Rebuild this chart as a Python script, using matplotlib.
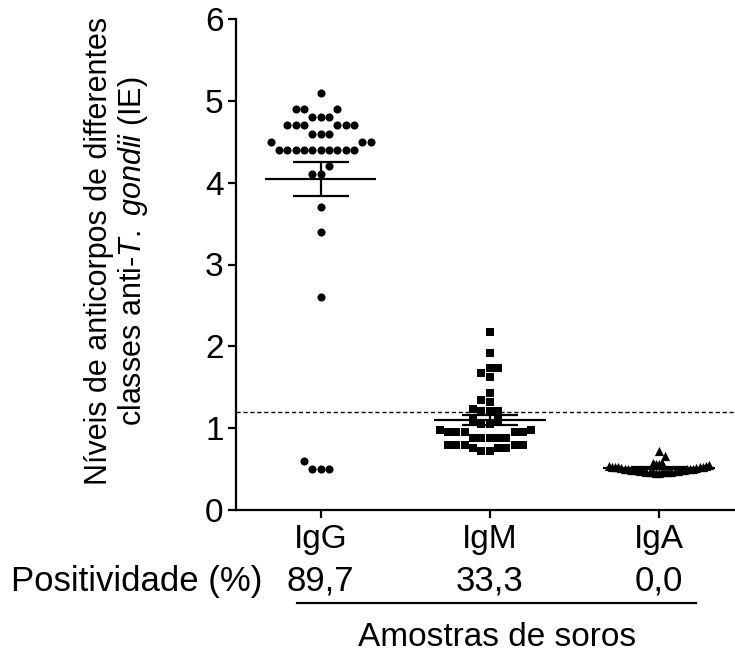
import numpy as np
import matplotlib
matplotlib.use("Agg")
import matplotlib.pyplot as plt

# ── Style ────────────────────────────────────────────────────────────────────
plt.rcParams["font.family"] = ["Liberation Sans", "DejaVu Sans"]
plt.rcParams["mathtext.fontset"] = "custom"
plt.rcParams["mathtext.rm"] = "Liberation Sans"
plt.rcParams["mathtext.it"] = "Liberation Sans:italic"

FS_LAB = 22      # y label
FS_TICK = 24     # tick labels
FS_ROW = 25      # positivity row
FS_X = 24        # x title
LW = 1.6

# ── Data ─────────────────────────────────────────────────────────────────────
categories = ["IgG", "IgM", "IgA"]
positivity = ["89,7", "33,3", "0,0"]
cutoff = 1.2

igg = [5.1, 4.9, 4.9, 4.9, 4.8, 4.8, 4.8,
       4.7, 4.7, 4.7, 4.7, 4.7, 4.7, 4.6, 4.6, 4.6,
       4.5, 4.5, 4.5, 4.4, 4.4, 4.4, 4.4, 4.4, 4.4, 4.4, 4.4, 4.4, 4.4,
       4.2, 4.1, 4.1, 3.7, 3.4, 2.6, 0.6, 0.5, 0.5, 0.5]
igm = [2.17, 1.92, 1.74, 1.74, 1.67, 1.62, 1.43, 1.35, 1.32, 1.24,
       1.21, 1.21, 1.21, 1.10, 1.10, 1.05, 1.05, 0.98, 0.98,
       0.95, 0.95, 0.95, 0.95, 0.95, 0.88, 0.88, 0.88, 0.88, 0.88,
       0.80, 0.80, 0.80, 0.80, 0.80, 0.76, 0.76, 0.76, 0.72, 0.72]
iga = [0.72, 0.66, 0.58, 0.58, 0.56, 0.56, 0.55, 0.54, 0.54,
       0.53, 0.53, 0.52, 0.52, 0.52, 0.51, 0.51,
       0.50, 0.50, 0.50, 0.50, 0.50, 0.49, 0.49, 0.49, 0.49, 0.49,
       0.48, 0.48, 0.48, 0.48, 0.47, 0.47, 0.47, 0.47,
       0.46, 0.46, 0.46, 0.45, 0.45]

groups = [igg, igm, iga]
markers = ["o", "s", "^"]
msizes = [34, 30, 44]

# ── Layout (pixels of the 735x653 canvas) ────────────────────────────────────
W, H = 735, 653
AX_L, AX_B, AX_T = 236, 510, 19
XMIN, XMAX = 0.5, 3.45
XPX = (W - AX_L) / (XMAX - XMIN)
YPX = (AX_B - AX_T) / 6.0


def swarm(vals, sx=9.0, sy=8.5, max_half=50.0):
    """Prism-like dot spread: place points low→high at nearest free slot."""
    vals = np.asarray(vals, float)
    cand = np.arange(-60, 61) * sx / 2
    cand = cand[np.lexsort((cand, np.abs(cand)))]
    placed_y, placed_x = [], []
    offs = np.zeros(len(vals))
    for i in np.argsort(vals, kind="stable"):
        y = vals[i] * YPX
        py, px = np.array(placed_y), np.array(placed_x)
        for c in cand:
            if not np.any((np.abs(px - c) < sx * 0.99) & (np.abs(py - y) < sy)):
                break
        offs[i] = c
        placed_y.append(y)
        placed_x.append(c)
    w = np.abs(offs).max()
    if w > max_half:
        offs *= max_half / w
    return offs / XPX


fig = plt.figure(figsize=(W / 100, H / 100), dpi=100, facecolor="white")
ax = fig.add_axes([AX_L / W, 1 - AX_B / H, 1 - AX_L / W, (AX_B - AX_T) / H])

for k, vals in enumerate(groups):
    xc = k + 1
    ax.scatter(xc + swarm(vals), vals, marker=markers[k], s=msizes[k],
               color="black", linewidths=0, zorder=2, clip_on=False)
    v = np.asarray(vals)
    mean = v.mean()
    sem = v.std(ddof=1) / np.sqrt(len(v))
    ax.hlines(mean, xc - 0.33, xc + 0.33, color="black", lw=LW, zorder=3)
    ax.errorbar(xc, mean, yerr=sem, fmt="none", ecolor="black",
                elinewidth=LW, capsize=20, capthick=LW, zorder=3)

ax.axhline(cutoff, color="black", lw=1.0, ls=(0, (3, 2)), zorder=1)

# ── Axes ─────────────────────────────────────────────────────────────────────
ax.set_xlim(XMIN, XMAX)
ax.set_ylim(0, 6)
ax.set_yticks(range(7))
ax.set_xticks([1, 2, 3])
ax.set_xticklabels(categories)
for s in ["top", "right"]:
    ax.spines[s].set_visible(False)
for s in ["left", "bottom"]:
    ax.spines[s].set_linewidth(LW)
ax.tick_params(axis="both", direction="out", length=6, width=LW,
               labelsize=FS_TICK, color="black")
ax.tick_params(axis="y", pad=3)
ax.tick_params(axis="x", pad=4)

# ── Extra texts below the axis ───────────────────────────────────────────────
tr = ax.get_xaxis_transform()
y_pos = (AX_B - 581) / (AX_B - AX_T)
for k, p in enumerate(positivity):
    ax.text(k + 1, y_pos, p, transform=tr, ha="center", va="center",
            fontsize=FS_ROW, clip_on=False)
y_line = (AX_B - 603) / (AX_B - AX_T)
ax.plot([0.86, 3.22], [y_line, y_line], transform=tr, color="black",
        lw=LW, clip_on=False)

fig.text(137 / W, 1 - 581 / H, "Positividade (%)", ha="center", va="center",
         fontsize=FS_ROW)
fig.text(497 / W, 1 - 637 / H, "Amostras de soros", ha="center", va="center",
         fontsize=FS_X)
fig.text(117 / W, 1 - 251 / H,
         "Níveis de anticorpos de differentes\n"
         r"classes anti-$\it{T.\ gondii}$ (IE)",
         rotation=90, ha="center", va="center", fontsize=FS_LAB,
         multialignment="center", linespacing=1.1)

fig.savefig("out.png", dpi=100, facecolor="white")
